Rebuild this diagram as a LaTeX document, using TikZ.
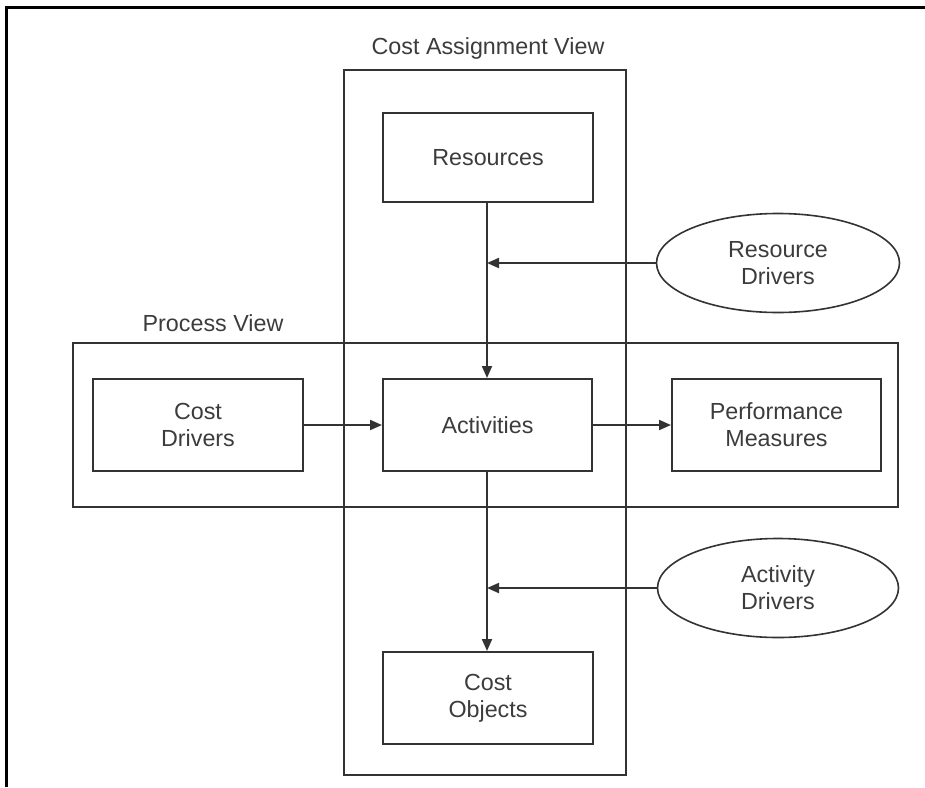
\documentclass[tikz,border=0pt]{standalone}
\usepackage{fontspec}
\setmainfont{Liberation Sans}
\usetikzlibrary{arrows.meta,shapes.geometric}
\definecolor{ln}{HTML}{333333}
\definecolor{tx}{HTML}{3C3C3C}
\tikzset{
  lbl/.style={text=tx, font=\fontsize{23.3}{27}\selectfont},
  box/.style={draw=ln, line width=2pt, rectangle, inner sep=0pt, align=center, lbl},
  oval/.style={draw=ln, line width=1.6pt, ellipse, inner sep=0pt, align=center, lbl},
  title/.style={lbl, inner sep=0pt},
  conn/.style={draw=ln, line width=2pt},
  arr/.style={conn, -{Triangle[length=12pt,width=10pt]}},
}
\begin{document}
\begin{tikzpicture}[x=1pt,y=-1pt]
\useasboundingbox (0,0) rectangle (925,787);
% frame
\draw[black, line width=3pt] (6,787) -- (6,7) -- (925,7);
% view boxes
\node[box, minimum width=282, minimum height=705] (cav) at (485,422.5) {};
\node[box, minimum width=825, minimum height=164] (pv) at (485.5,425) {};
\node[title] (cavt) at (488,48) {Cost Assignment View};
\node[title] (pvt) at (213,323) {Process View};
% inner boxes
\node[box, minimum width=210, minimum height=89] (res) at (488,157.5) {Resources};
\node[box, minimum width=209, minimum height=92] (act) at (487.5,425) {Activities};
\node[box, minimum width=210, minimum height=92] (cd) at (198,425) {Cost\\Drivers};
\node[box, minimum width=209, minimum height=92] (pm) at (776.5,425) {Performance\\Measures};
\node[box, minimum width=210, minimum height=92] (co) at (488,698) {Cost\\Objects};
% ellipses
\node[oval, minimum width=243, minimum height=99] (rd) at (778,263) {Resource\\Drivers};
\node[oval, minimum width=241, minimum height=99] (ad) at (778,588) {Activity\\Drivers};
% junction points
\coordinate (rj) at (487,263);
\coordinate (aj) at (487,588);
% connectors
\draw[arr] (res.south -| rj) -- (act.north -| rj);
\draw[arr] (act.south -| aj) -- (co.north -| aj);
\draw[arr] (rd.west) -- (rj);
\draw[arr] (ad.west) -- (aj);
\draw[arr] (cd.east) -- (act.west);
\draw[arr] (act.east) -- (pm.west);
\end{tikzpicture}
\end{document}
